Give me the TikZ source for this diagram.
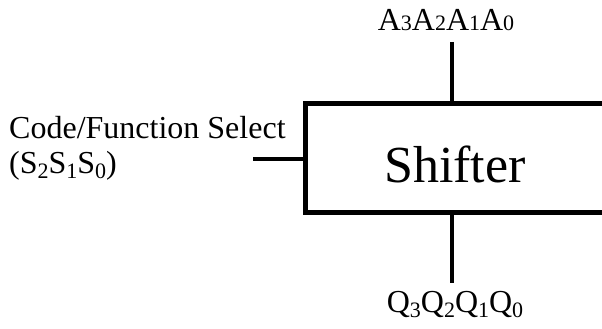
\documentclass[tikz,border=0pt]{standalone}
\usepackage{fontspec}
\setmainfont{Liberation Serif}
\usetikzlibrary{positioning}

% subscripts: A's sit on the line, Q's and S's drop a little
\newcommand\onsub[1]{{\fontsize{22}{22}\selectfont #1}}
\newcommand\dnsub[1]{\raisebox{-5pt}{\fontsize{22}{22}\selectfont #1}}

\begin{document}
\begin{tikzpicture}[x=1pt, y=-1pt,
  blk/.style={draw, line width=5pt, outer sep=0pt, inner sep=0pt,
    text height=50pt, text depth=0pt, font=\fontsize{52}{52}\selectfont},
  lbl/.style={inner sep=0pt, font=\fontsize{32}{35}\selectfont},
  wire/.style={line width=3.2pt}]
\useasboundingbox (0,0) rectangle (602,329);

% the shifter block, right side runs off the page
\node[blk, anchor=north west, minimum width=300pt, minimum height=109pt] (shifter) at (305,103) {Shifter};

% data in, data out and the select lines
\node[lbl, anchor=base] (abus) at (446,31) {A\onsub{3}A\onsub{2}A\onsub{1}A\onsub{0}};
\node[lbl, anchor=base] (qbus) at (455,312) {Q\dnsub{3}Q\dnsub{2}Q\dnsub{1}Q\dnsub{0}};
\node[lbl, anchor=base west, align=left] (sel) at (9,173) {Code/Function Select\\(S\dnsub{2}S\dnsub{1}S\dnsub{0})};

\coordinate (ain) at (452,42);
\coordinate (qout) at (452,283);
\coordinate (sin) at (253,159);

\draw[wire] (ain) -- (ain |- shifter.north);
\draw[wire] (qout |- shifter.south) -- (qout);
\draw[wire] (sin) -- (sin -| shifter.west);
\end{tikzpicture}
\end{document}
